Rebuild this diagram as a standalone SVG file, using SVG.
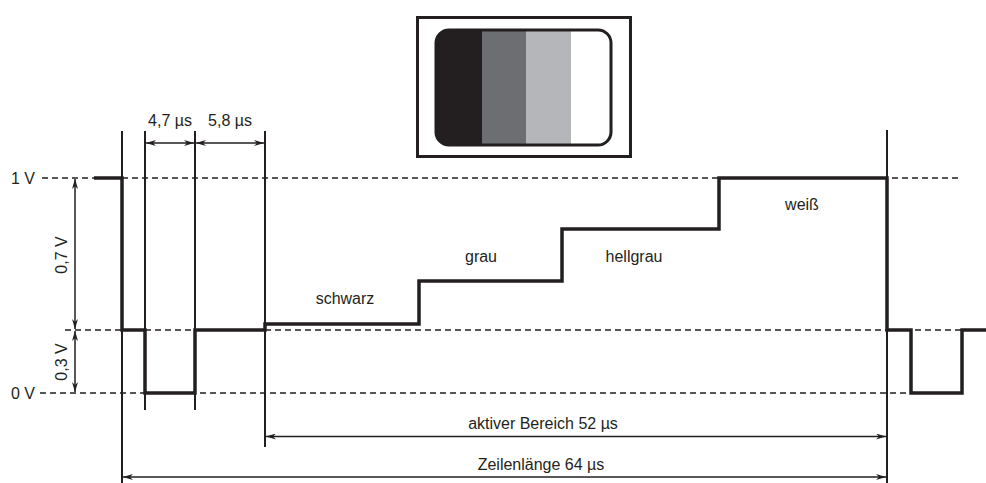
<svg xmlns="http://www.w3.org/2000/svg" width="986" height="483" viewBox="0 0 986 483">
<defs>
<style>
.t{font-family:"Liberation Sans",Arial,sans-serif;font-size:16px;fill:#231f20}
.dash{stroke:#231f20;stroke-width:1.4;stroke-dasharray:6,4;fill:none}
.thin{stroke:#231f20;stroke-width:2;fill:none}
.dim{stroke:#231f20;stroke-width:1.5;fill:none;marker-start:url(#a);marker-end:url(#a)}
.sig{stroke:#231f20;stroke-width:3.5;fill:none;stroke-linejoin:miter}
</style>
<marker id="a" viewBox="0 0 10 6" refX="10" refY="3" markerWidth="10" markerHeight="6" markerUnits="userSpaceOnUse" orient="auto-start-reverse">
<path d="M0,0 L10,3 L0,6 L3,3 Z" fill="#231f20"/>
</marker>
</defs>
<rect width="986" height="483" fill="#fff"/>

<g id="screen">
<rect x="417.5" y="17.5" width="213" height="139" fill="#fff" stroke="#231f20" stroke-width="3"/>
<clipPath id="c"><rect x="436" y="30" width="175" height="115" rx="13"/></clipPath>
<g clip-path="url(#c)">
<rect x="436" y="30" width="46" height="115" fill="#231f20"/>
<rect x="482" y="30" width="44" height="115" fill="#6d6e71"/>
<rect x="526" y="30" width="45" height="115" fill="#b5b6b9"/>
<rect x="571" y="30" width="40" height="115" fill="#fff"/>
</g>
<rect x="436" y="30" width="175" height="115" rx="13" fill="none" stroke="#231f20" stroke-width="3"/>
</g>

<g id="levels">
<line class="dash" x1="42" y1="178" x2="958" y2="178"/>
<line class="dash" x1="65" y1="330" x2="986" y2="330"/>
<line class="dash" x1="40" y1="393" x2="912" y2="393"/>
<text class="t" x="11" y="184">1 V</text>
<text class="t" x="11" y="399">0 V</text>
</g>

<g id="connectors">
<line class="thin" x1="122" y1="131" x2="122" y2="483"/>
<line class="thin" x1="145" y1="131" x2="145" y2="410"/>
<line class="thin" x1="195" y1="131" x2="195" y2="410"/>
<line class="thin" x1="265" y1="131" x2="265" y2="447"/>
<line class="thin" x1="887" y1="130" x2="887" y2="483"/>
<line class="dim" x1="146" y1="143" x2="194" y2="143"/>
<line class="dim" x1="196" y1="143" x2="264" y2="143"/>
<line class="dim" x1="75" y1="179" x2="75" y2="329"/>
<line class="dim" x1="75" y1="331" x2="75" y2="392"/>
<line class="dim" x1="266" y1="436.5" x2="886" y2="436.5"/>
<line class="dim" x1="123" y1="477" x2="886" y2="477"/>
</g>

<g id="signal">
<polyline class="sig" points="94,178 122,178 122,330 145,330 145,393 195,393 195,330 265,330 265,324 419,324 419,281 562,281 562,229 719,229 719,178 887,178 887,330 911,330 911,393 962,393 962,330 986,330"/>
</g>

<g id="labels">
<text class="t" x="170" y="126" text-anchor="middle">4,7 µs</text>
<text class="t" x="230" y="126" text-anchor="middle">5,8 µs</text>
<text class="t" transform="translate(67,255) rotate(-90)" text-anchor="middle">0,7 V</text>
<text class="t" transform="translate(67,362) rotate(-90)" text-anchor="middle">0,3 V</text>
<text class="t" x="345" y="304" text-anchor="middle">schwarz</text>
<text class="t" x="481" y="262" text-anchor="middle">grau</text>
<text class="t" x="634" y="262" text-anchor="middle">hellgrau</text>
<text class="t" x="802" y="210" text-anchor="middle">weiß</text>
<text class="t" x="543" y="429" text-anchor="middle">aktiver Bereich 52 µs</text>
<text class="t" x="541" y="470" text-anchor="middle">Zeilenlänge 64 µs</text>
</g>
</svg>
